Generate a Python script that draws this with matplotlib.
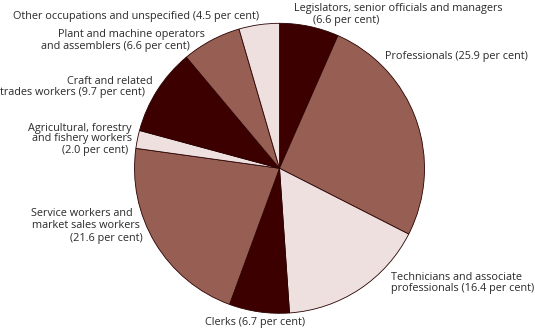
import matplotlib
matplotlib.use("Agg")
import matplotlib.pyplot as plt

categories = [
    "Legislators, senior officials and managers\n(6.6 per cent)",
    "Professionals (25.9 per cent)",
    "Technicians and associate\nprofessionals (16.4 per cent)",
    "Clerks (6.7 per cent)",
    "Service workers and\nmarket sales workers\n(21.6 per cent)",
    "Agricultural, forestry\nand fishery workers\n(2.0 per cent)",
    "Craft and related\ntrades workers (9.7 per cent)",
    "Plant and machine operators\nand assemblers (6.6 per cent)",
    "Other occupations and unspecified (4.5 per cent)",
]
values = [6.6, 25.9, 16.4, 6.7, 21.6, 2.0, 9.7, 6.6, 4.5]

DARK, MED, LIGHT = "#3d0000", "#975f53", "#ede0df"
colors = [DARK, MED, LIGHT, DARK, MED, LIGHT, DARK, MED, LIGHT]

# label line positions (left x, center y) in pixel coords from top-left
line_pos = [
    [(294, 8), (313, 20)],
    [(385, 57)],
    [(391, 277), (391, 289)],
    [(205, 323)],
    [(31, 214), (32, 226), (70, 239)],
    [(28, 128), (32, 139), (62, 151)],
    [(67, 81), (0, 93)],
    [(58, 35), (41, 47)],
    [(13, 17)],
]

W, H = 535, 331
fig = plt.figure(figsize=(W / 100, H / 100), dpi=100)
ax = fig.add_axes([0, 0, 1, 1])
ax.set_xlim(0, W)
ax.set_ylim(0, H)
ax.set_aspect("equal")
ax.axis("off")

cx, cy, r = 279.5, H - 168.3, 145
ax.pie(values, colors=colors, startangle=90, counterclock=False,
       center=(cx, cy), radius=r,
       wedgeprops=dict(edgecolor="#2a0000", linewidth=0.6))
ax.set_xlim(0, W)
ax.set_ylim(0, H)

font = "Open Sans"
fs = 7.8
for lab, poss in zip(categories, line_pos):
    for line, (x, y) in zip(lab.split("\n"), poss):
        ax.text(x, H - y, line, ha="left", va="center", fontsize=fs,
                family=font, color="#2a2a2a")

fig.savefig("out.png", dpi=100)
